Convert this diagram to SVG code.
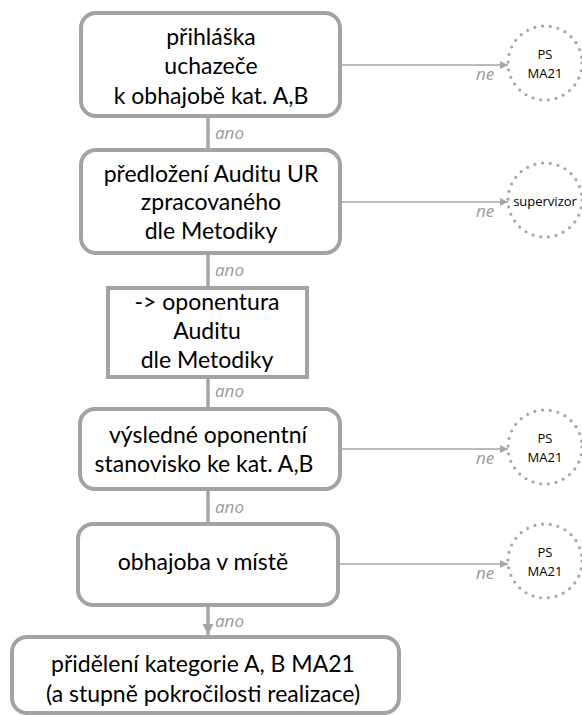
<svg xmlns="http://www.w3.org/2000/svg" width="582" height="715" viewBox="0 0 582 715">
<defs>
<style>
.box{fill:#fff;stroke:#a3a3a3;stroke-width:4}
.t{font-family:Lato,"Liberation Sans",sans-serif;font-size:23px;fill:#000;text-anchor:middle}
.c{fill:none;stroke:#a6a6a6;stroke-width:3.2;stroke-dasharray:0 7.8;stroke-linecap:round}
.ct{font-family:"Open Sans","Liberation Sans",sans-serif;font-size:13px;fill:#000;text-anchor:middle}
.ln{stroke:#a6a6a6;fill:none}
.v{stroke-width:3.5}
.h{stroke-width:1.5}
.lab{font-family:"Open Sans","Liberation Sans",sans-serif;font-style:italic;font-size:17px;fill:#9a9a9a}
</style>
<marker id="ah" viewBox="0 0 10 10" refX="10" refY="5" markerWidth="9" markerHeight="8" markerUnits="userSpaceOnUse" orient="auto"><path d="M0,0 L10,5 L0,10 z" fill="#a6a6a6"/></marker>
<marker id="ahv" viewBox="0 0 10 10" refX="10" refY="5" markerWidth="11" markerHeight="12" markerUnits="userSpaceOnUse" orient="auto"><path d="M0,0 L10,5 L0,10 z" fill="#a6a6a6"/></marker>
</defs>
<rect width="582" height="715" fill="#fff"/>
<g id="connectors">
<line class="ln v" x1="208" y1="116" x2="208" y2="150"/>
<line class="ln v" x1="208" y1="253" x2="208" y2="288"/>
<line class="ln v" x1="208" y1="377" x2="208" y2="409"/>
<line class="ln v" x1="208" y1="489" x2="208" y2="524"/>
<line class="ln v" x1="208" y1="605" x2="208" y2="635" marker-end="url(#ahv)"/>
<line class="ln h" x1="340" y1="65" x2="508" y2="65" marker-end="url(#ah)"/>
<line class="ln h" x1="340" y1="202" x2="508" y2="202" marker-end="url(#ah)"/>
<line class="ln h" x1="340" y1="449" x2="508" y2="449" marker-end="url(#ah)"/>
<line class="ln h" x1="338" y1="564" x2="508" y2="564" marker-end="url(#ah)"/>
<text class="lab" x="215" y="139">ano</text>
<text class="lab" x="215" y="276">ano</text>
<text class="lab" x="215" y="397">ano</text>
<text class="lab" x="215" y="513">ano</text>
<text class="lab" x="215" y="627">ano</text>
<text class="lab" x="476" y="80">ne</text>
<text class="lab" x="476" y="217">ne</text>
<text class="lab" x="476" y="464">ne</text>
<text class="lab" x="476" y="579">ne</text>
</g>
<g id="n1">
<rect class="box" x="81" y="13" width="259" height="103" rx="15"/>
<text class="t" x="211" y="45">přihláška</text>
<text class="t" x="211" y="74">uchazeče</text>
<text class="t" x="211" y="104">k obhajobě kat. A,B</text>
</g>
<g id="n2">
<rect class="box" x="81" y="150" width="259" height="103" rx="15"/>
<text class="t" x="211" y="182">předložení Auditu UR</text>
<text class="t" x="211" y="210">zpracovaného</text>
<text class="t" x="211" y="239">dle Metodiky</text>
</g>
<g id="n3">
<rect class="box" x="108" y="288" width="199" height="89"/>
<text class="t" x="207" y="310">-&gt; oponentura</text>
<text class="t" x="207" y="339">Auditu</text>
<text class="t" x="207" y="368">dle Metodiky</text>
</g>
<g id="n4">
<rect class="box" x="80" y="409" width="260" height="80" rx="15"/>
<text class="t" x="208" y="443">výsledné oponentní</text>
<text class="t" x="204" y="472">stanovisko ke kat. A,B</text>
</g>
<g id="n5">
<rect class="box" x="78" y="524" width="260" height="81" rx="15"/>
<text class="t" x="203" y="570">obhajoba v místě</text>
</g>
<g id="n6">
<rect class="box" x="12" y="637" width="387" height="76" rx="15"/>
<text class="t" x="203" y="672">přidělení kategorie A, B MA21</text>
<text class="t" x="203" y="702">(a stupně pokročilosti realizace)</text>
</g>
<g id="c1">
<circle class="c" cx="545" cy="63" r="37"/>
<text class="ct" x="545" y="59">PS</text>
<text class="ct" x="545" y="78">MA21</text>
</g>
<g id="c2">
<circle class="c" cx="545" cy="200" r="37"/>
<text class="ct" x="545" y="206">supervizor</text>
</g>
<g id="c3">
<circle class="c" cx="545" cy="447" r="37"/>
<text class="ct" x="545" y="443">PS</text>
<text class="ct" x="545" y="462">MA21</text>
</g>
<g id="c4">
<circle class="c" cx="545" cy="561" r="37"/>
<text class="ct" x="545" y="557">PS</text>
<text class="ct" x="545" y="576">MA21</text>
</g>
</svg>
